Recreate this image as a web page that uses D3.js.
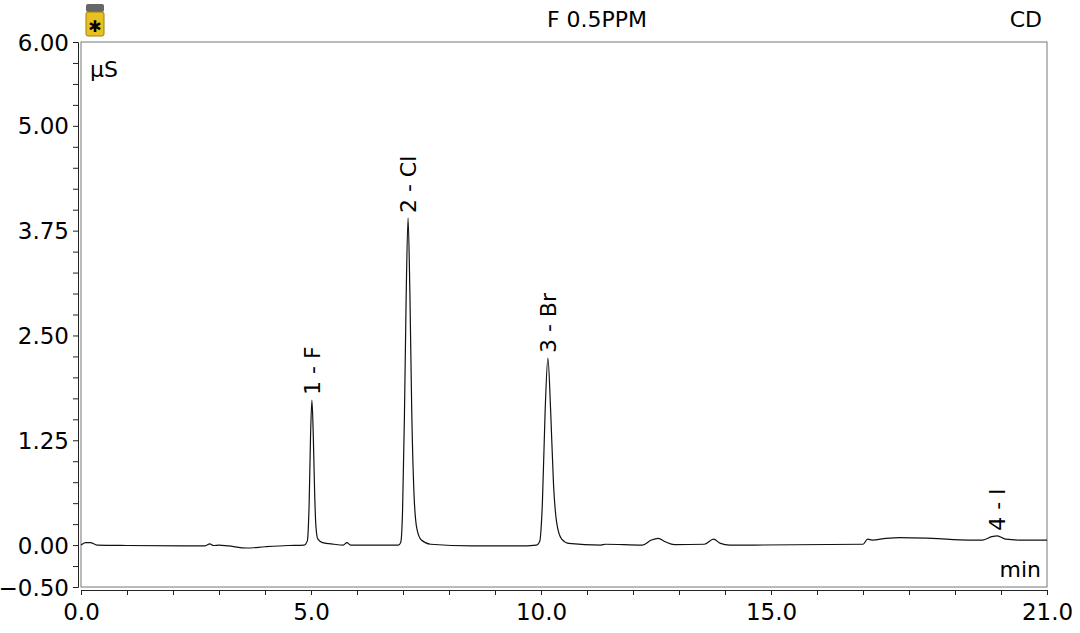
<!DOCTYPE html>
<html><head><meta charset="utf-8">
<script src="https://cdn.jsdelivr.net/npm/d3@7"></script>
<style>body{margin:0;background:#fff}text{font-family:"DejaVu Sans",sans-serif}</style>
</head><body><div id="chart"></div>
<script>
var width = 1080, height = 633
  , margin = {top: 42, left: 81, bottom: 46, right: 33};

// trace points [min, µS]
var trace = [[0,0],[0.1,0.03],[0.2,0.03],[0.35,0],[1,-0.005],[2.7,-0.01],[2.8,0.015],[2.88,-0.005],[3.0,0],[3.2,-0.01],[3.6,-0.035],[4.0,-0.02],[4.5,-0.005],[4.85,0],
  [4.92,0.05],[4.96,0.5],[4.99,1.3],[5.02,1.73],[5.05,1.3],[5.08,0.6],[5.11,0.2],[5.15,0.07],[5.25,0.03],[5.5,0.01],
  [5.7,0],[5.78,0.03],[5.86,0],[6.9,0],
  [6.95,0.03],[6.99,0.4],[7.03,1.5],[7.07,3.0],[7.11,3.9],[7.15,3.0],[7.19,1.6],[7.24,0.6],[7.3,0.2],[7.4,0.06],[7.6,0.01],[8.5,-0.01],[9.5,-0.01],[9.9,0],
  [9.97,0.04],[10.03,0.5],[10.09,1.6],[10.15,2.23],[10.21,1.6],[10.27,0.75],[10.34,0.27],[10.45,0.07],[10.6,0.02],[11.3,0],[11.4,0.01],[12.2,0],[12.4,0.06],[12.55,0.08],[12.7,0.04],[12.9,0.005],
  [13.55,0.01],[13.75,0.07],[13.9,0.02],[14.1,0],[17.0,0.01],[17.1,0.07],[17.2,0.06],[17.5,0.08],[17.8,0.09],[18.5,0.08],[19.3,0.06],[19.6,0.06],[19.8,0.1],[19.92,0.11],[20.1,0.07],[20.4,0.06],[21,0.06]];

var peakNames = ["1 - F","2 - Cl","3 - Br","4 - I"];
var peakTimes = [5.02, 7.11, 10.15, 19.92];
var peakHeights = [1.73, 3.9, 2.23, 0.11];
var yTicks = [-0.5, 0, 1.25, 2.5, 3.75, 5, 6];
var xTicks = [0, 5, 10, 15, 21];

var x = d3.scaleLinear().domain([0, 21]).range([margin.left, width - margin.right]);
var y = d3.scaleLinear().domain([-0.5, 6]).range([height - margin.bottom, margin.top]);

var svg = d3.select("#chart").append("svg").attr("width", width).attr("height", height);

// frame
svg.append("rect").attr("x", x(0)).attr("y", y(6)).attr("width", x(21) - x(0)).attr("height", y(-0.5) - y(6))
  .attr("fill", "none").attr("stroke", "#777").attr("stroke-width", 1);

// y axis
var yAxis = svg.append("g").attr("transform", "translate(" + (x(0) - 3) + ",0)");
yAxis.call(d3.axisLeft(y).tickValues(d3.range(-0.5, 6.01, 0.25)).tickFormat("").tickSize(5));
yAxis.call(function(g){ g.select(".domain").attr("stroke", "#222"); g.selectAll(".tick line").attr("stroke", "#222"); });
yAxis.selectAll(".tick").filter(function(d){ return yTicks.some(function(t){ return Math.abs(t - d) < 1e-6; }); })
  .append("text").attr("x", -9).attr("dy", "0.35em").attr("text-anchor", "end")
  .attr("fill", "#000").style("font-size", "23px").text(function(d){ return d3.format(".2f")(d); });

// x axis
var xAxis = svg.append("g").attr("transform", "translate(0," + (y(-0.5) + 3) + ")");
xAxis.call(d3.axisBottom(x).tickValues(d3.range(0, 21.01, 1)).tickFormat("").tickSize(5));
xAxis.call(function(g){ g.select(".domain").attr("stroke", "#222"); g.selectAll(".tick line").attr("stroke", "#222"); });
xAxis.selectAll(".tick").filter(function(d){ return xTicks.indexOf(d) >= 0; })
  .append("text").attr("y", 30).attr("fill", "#000").attr("text-anchor", "middle")
  .style("font-size", "23px").text(function(d){ return d3.format(".1f")(d); });

// trace
var line = d3.line().x(function(d){ return x(d[0]); }).y(function(d){ return y(d[1]); }).curve(d3.curveMonotoneX);
svg.append("path").datum(trace).attr("d", line).attr("fill", "none").attr("stroke", "#111").attr("stroke-width", 1.2);

// peak labels
svg.selectAll(".plabel").data(peakNames).enter().append("text")
  .attr("class", "plabel")
  .attr("transform", function(d, i){ return "translate(" + (x(peakTimes[i]) + 8) + "," + (y(peakHeights[i]) - 5) + ") rotate(-90)"; })
  .style("font-size", "22px").text(function(d){ return d; });

// texts
svg.append("text").attr("x", 90).attr("y", 77).style("font-size", "22px").text("µS");
svg.append("text").attr("x", 1041).attr("y", 577).attr("text-anchor", "end").style("font-size", "22px").text("min");
svg.append("text").attr("x", 597).attr("y", 27).attr("text-anchor", "middle").style("font-size", "22px").text("F 0.5PPM");
svg.append("text").attr("x", 1042).attr("y", 27).attr("text-anchor", "end").style("font-size", "22px").text("CD");

// vial icon
var icon = svg.append("g").attr("transform", "translate(86,4)");
icon.append("rect").attr("width", 18).attr("height", 8).attr("rx", 2).attr("fill", "#666");
icon.append("rect").attr("y", 8).attr("width", 18).attr("height", 24).attr("rx", 2).attr("fill", "#e8c020").attr("stroke", "#a08010");
icon.append("text").attr("x", 9).attr("y", 28).attr("text-anchor", "middle").style("font-size", "16px").text("✱");
</script></body></html>
